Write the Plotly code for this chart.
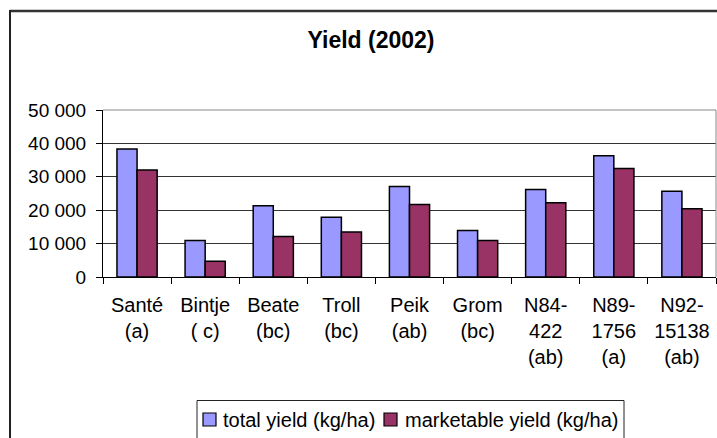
import plotly.graph_objects as go

categories = ["Santé<br>(a)", "Bintje<br>( c)", "Beate<br>(bc)", "Troll<br>(bc)", "Peik<br>(ab)",
              "Grom<br>(bc)", "N84-<br>422<br>(ab)", "N89-<br>1756<br>(a)", "N92-<br>15138<br>(ab)"]
total_yield = [38300, 10900, 21300, 17900, 27100, 13900, 26200, 36300, 25700]
marketable_yield = [32000, 4700, 12100, 13500, 21700, 10900, 22200, 32500, 20400]
series_names = ["total yield (kg/ha)", "marketable yield (kg/ha)"]
series_colors = ["#9999FF", "#993366"]
y_tickvals = [0, 10000, 20000, 30000, 40000, 50000]
y_ticktext = ["0", "10 000", "20 000", "30 000", "40 000", "50 000"]

W, H = 717, 438
L, R, T, B = 103, 1, 110, 161
pw, ph = W - L - R, H - T - B

def px(x):
    return (x - L) / pw

def py(y):
    return (H - B - y) / ph

FONT = "Liberation Sans, Arial, sans-serif"

fig = go.Figure()
for name, vals, col in zip(series_names, [total_yield, marketable_yield], series_colors):
    fig.add_trace(go.Bar(x=categories, y=vals, name=name, showlegend=False,
                         marker=dict(color=col, line=dict(color="black", width=1.5))))

shapes = [
    dict(type="line", xref="paper", yref="paper", x0=0, x1=1, y0=1, y1=1,
         line=dict(color="#888888", width=1)),
    dict(type="line", xref="paper", yref="paper", x0=1, x1=1, y0=0, y1=1,
         line=dict(color="#888888", width=1)),
    dict(type="line", xref="paper", yref="paper", x0=px(10), x1=px(720), y0=py(11), y1=py(11),
         line=dict(color="#333333", width=2.5)),
    dict(type="line", xref="paper", yref="paper", x0=px(10), x1=px(10), y0=py(10), y1=py(440),
         line=dict(color="#222222", width=2)),
    # legend box
    dict(type="rect", xref="paper", yref="paper", x0=px(197), x1=px(624), y0=py(400.5), y1=py(445),
         line=dict(color="#222222", width=1), fillcolor="rgba(0,0,0,0)"),
]
annotations = []
legend_sym_x = [203, 384]
legend_txt_x = [221, 403]
for i, name in enumerate(series_names):
    shapes.append(dict(type="rect", xref="paper", yref="paper",
                       x0=px(legend_sym_x[i]), x1=px(legend_sym_x[i] + 13),
                       y0=py(426), y1=py(413),
                       line=dict(color="black", width=1.2), fillcolor=series_colors[i]))
    annotations.append(dict(text=name, xref="paper", yref="paper", x=px(legend_txt_x[i]),
                            y=py(419.5), xanchor="left", yanchor="middle", showarrow=False,
                            font=dict(size=20, family=FONT, color="black")))

fig.update_layout(
    width=W, height=H,
    margin=dict(l=L, r=R, t=T, b=B),
    paper_bgcolor="white", plot_bgcolor="white",
    font=dict(family=FONT, color="black", size=18),
    barmode="group", bargap=0.41, bargroupgap=0,
    title=dict(text="<b>Yield (2002)</b>", x=371 / W, xref="container", xanchor="center",
               y=1 - 40 / H, yref="container", yanchor="middle",
               font=dict(family=FONT, size=23, color="black")),
    showlegend=False,
    xaxis=dict(showline=True, linecolor="black", linewidth=1, ticks="outside", ticklen=6,
               tickcolor="black", tickson="boundaries", showgrid=False,
               tickfont=dict(size=20, family=FONT), tickangle=0, ticklabelstandoff=10),
    yaxis=dict(range=[0, 50000], tickvals=y_tickvals, ticktext=y_ticktext,
               showline=True, linecolor="black", linewidth=1, ticks="outside", ticklen=6,
               tickcolor="black", showgrid=True, gridcolor="#333333", gridwidth=1,
               zeroline=False, tickfont=dict(size=19, family=FONT), ticklabelstandoff=6),
    shapes=shapes,
    annotations=annotations,
)

fig.write_html("out.html", config={"displayModeBar": False},
               post_script="document.body.style.margin='0';document.body.style.overflow='hidden';")
